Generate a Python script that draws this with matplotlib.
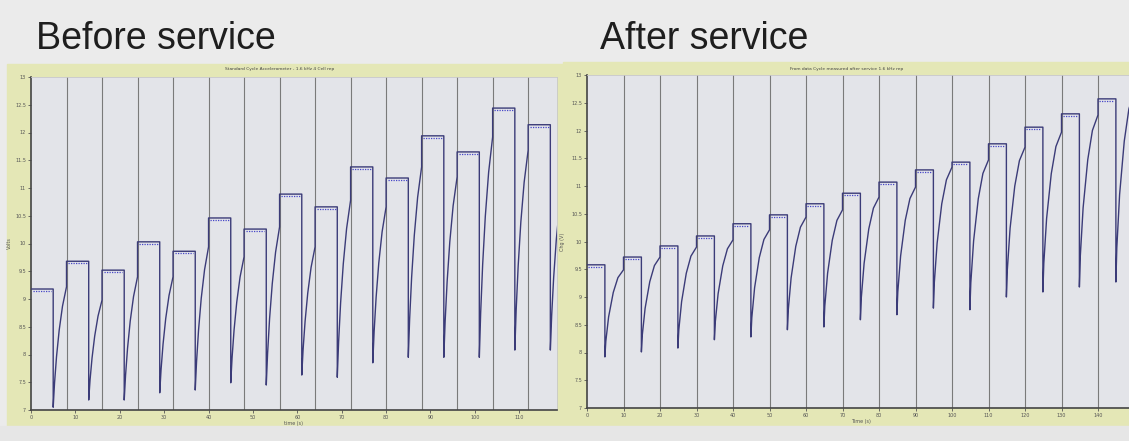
import numpy as np
import matplotlib.pyplot as plt
from matplotlib.patches import Rectangle

# --- data (volts), one entry per pulse cycle ---
# before service: cycle period 8 s, rest level / dip / level reached at end of recovery
before_flat = [9.18, 9.68, 9.52, 10.03, 9.86, 10.46, 10.26, 10.89, 10.66, 11.38, 11.18, 11.94, 11.65, 12.44, 12.14]
before_min = [7.05, 7.18, 7.18, 7.31, 7.36, 7.49, 7.45, 7.63, 7.59, 7.85, 7.95, 7.95, 7.95, 8.08, 8.08]
before_end = [9.22, 8.98, 9.40, 9.40, 9.94, 9.76, 10.30, 9.94, 10.78, 10.66, 11.38, 11.20, 11.92, 11.68, 11.20]

# after service: cycle period 10 s
after_flat = [9.58, 9.72, 9.92, 10.10, 10.32, 10.48, 10.68, 10.87, 11.07, 11.29, 11.43, 11.76, 12.06, 12.30, 12.57]
after_min = [7.92, 8.01, 8.08, 8.23, 8.28, 8.41, 8.46, 8.59, 8.68, 8.80, 8.77, 9.00, 9.09, 9.18, 9.27]
after_end = [9.49, 9.72, 9.90, 10.03, 10.21, 10.44, 10.57, 10.80, 10.98, 11.34, 11.47, 11.70, 11.97, 12.28, 12.70]

# shape of the recovery after each dip (fraction of time / fraction of rise)
before_shape_s = [0, 0.10, 0.25, 0.45, 0.70, 1.0]
before_shape_f = [0, 0.20, 0.42, 0.64, 0.84, 1.0]
after_shape_s = [0, 0.05, 0.20, 0.45, 0.70, 1.0]
after_shape_f = [0, 0.18, 0.46, 0.74, 0.91, 1.0]

y_ticks = [7, 7.5, 8, 8.5, 9, 9.5, 10, 10.5, 11, 11.5, 12, 12.5, 13]
before_xticks = [0, 10, 20, 30, 40, 50, 60, 70, 80, 90, 100, 110]
after_xticks = [0, 10, 20, 30, 40, 50, 60, 70, 80, 90, 100, 110, 120, 130, 140]
before_markers = [8, 16, 24, 32, 40, 48, 56, 64, 72, 80, 88, 96, 104, 112]
after_markers = [10, 20, 30, 40, 50, 60, 70, 80, 90, 100, 110, 120, 130, 140]

LINE = "#3b3b78"
FLAT = "#4646c8"
FRAME = "#e4e7b6"
PLOTBG = "#e3e4e9"


def build_trace(flat, low, end, period, hold, shape_s, shape_f):
    t, v = [], []
    for k in range(len(flat)):
        t0 = period * k
        td = t0 + hold
        t += [t0, td, td]
        v += [flat[k], flat[k], low[k]]
        for s, f in zip(shape_s[1:], shape_f[1:]):
            t.append(td + s * (t0 + period - td))
            v.append(low[k] + f * (end[k] - low[k]))
    return np.array(t), np.array(v)


def style_axes(ax, xlim, xticks, markers, xlabel, ylabel):
    ax.set_facecolor(PLOTBG)
    ax.set_xlim(*xlim)
    ax.set_ylim(7, 13)
    ax.set_xticks(xticks)
    ax.set_yticks(y_ticks)
    ax.set_yticklabels([f"{y:g}" for y in y_ticks])
    ax.tick_params(labelsize=3.5, colors="#555555", length=2, width=0.6, pad=1.5)
    for m in markers:
        ax.axvline(m, color="#7a7a7a", lw=0.8, zorder=1)
    for side in ["left", "bottom"]:
        ax.spines[side].set_color("#444444")
        ax.spines[side].set_linewidth(1.2)
    for side in ["top", "right"]:
        ax.spines[side].set_color("#c8c8c8")
        ax.spines[side].set_linewidth(0.6)
    ax.set_xlabel(xlabel, fontsize=3.5, color="#555555", labelpad=1)
    ax.set_ylabel(ylabel, fontsize=3.5, color="#555555", labelpad=2)


def draw_trace(ax, flat, low, end, period, hold, shape_s, shape_f):
    t, v = build_trace(flat, low, end, period, hold, shape_s, shape_f)
    ax.plot(t, v, color=LINE, lw=1.0, zorder=3)
    for k, h in enumerate(flat):
        ax.plot([period * k + 0.4, period * k + hold - 0.4], [h - 0.04, h - 0.04],
                color=FLAT, lw=0.9, ls=(0, (1, 1)), zorder=4)


fig = plt.figure(figsize=(11.29, 4.41), dpi=100)
fig.patch.set_facecolor("#ebebeb")

W, H = 1129, 441


def px_rect(x0, y0, x1, y1, color):
    fig.patches.append(Rectangle((x0 / W, 1 - y1 / H), (x1 - x0) / W, (y1 - y0) / H,
                                 transform=fig.transFigure, color=color, zorder=-10))


px_rect(7, 64, 566, 426, FRAME)
px_rect(563, 62, 1140, 426, FRAME)
px_rect(0, 426, 1140, 441, "#e6e6e6")

# before service
ax1 = fig.add_axes([31 / W, 1 - 410 / H, 526 / W, 333 / H])
style_axes(ax1, (0, 118.5), before_xticks, before_markers, "time (s)", "Volts")
draw_trace(ax1, before_flat, before_min, before_end, 8, 5.0, before_shape_s, before_shape_f)
ax1.yaxis.set_label_coords(-0.036, 0.5)

# after service (axis runs off the right edge like the screenshot)
ax2 = fig.add_axes([587 / W, 1 - 408 / H, 547.5 / W, 333 / H])
style_axes(ax2, (0, 150), after_xticks, after_markers, "Time (s)", "Chg (V)")
draw_trace(ax2, after_flat, after_min, after_end, 10, 4.9, after_shape_s, after_shape_f)
ax2.yaxis.set_label_coords(-0.04, 0.5)

# headings
fig.text(36 / W, 1 - 49 / H, "Before service", fontsize=27, family="Liberation Sans",
         color="#1e1e1e", ha="left", va="baseline")
fig.text(600 / W, 1 - 49 / H, "After service", fontsize=27, family="Liberation Sans",
         color="#1e1e1e", ha="left", va="baseline")

# small chart captions inside the frame band
fig.text(280 / W, 1 - 69 / H, "Standard Cycle Accelerometer - 1.6 kHz 4 Cell rep",
         fontsize=3.2, color="#444444", ha="center", va="center")
fig.text(847 / W, 1 - 69 / H, "From data Cycle measured after service 1.6 kHz rep",
         fontsize=3.2, color="#444444", ha="center", va="center")

fig.savefig("out.png", dpi=100, facecolor=fig.get_facecolor())
